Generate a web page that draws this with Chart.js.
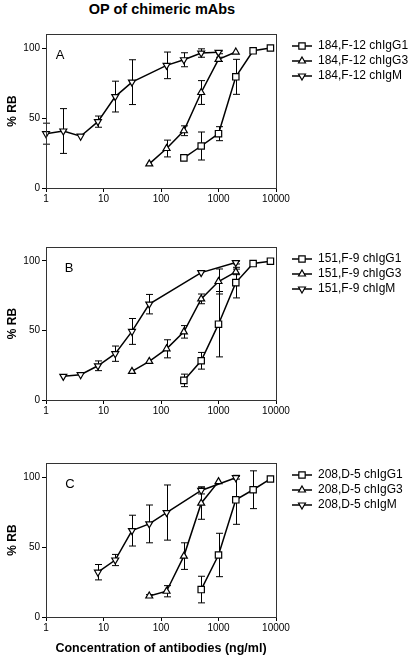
<!DOCTYPE html>
<html>
<head>
<meta charset="utf-8">
<script src="https://cdn.jsdelivr.net/npm/chart.js@4/dist/chart.umd.min.js"></script>
<style>
  body { margin: 0; background: #fff; }
  #wrap { position: relative; width: 417px; height: 656px; overflow: hidden; }
  #title { position: absolute; left: 0; top: 1px; width: 324px; text-align: center;
           font: bold 14.5px "Liberation Sans", Arial, sans-serif; color: #000; }
  canvas { position: absolute; left: 0; }
</style>
</head>
<body>
<div id="wrap">
  <div id="title">OP of chimeric mAbs</div>
  <canvas id="chartA" style="top:0px"></canvas>
  <canvas id="chartB" style="top:214px"></canvas>
  <canvas id="chartC" style="top:430px"></canvas>
</div>
<script>
// axis ticks
const xTicks = [1, 10, 100, 1000, 10000];
const yTicks = [0, 50, 100];

// Panel A: 184,F-12
const aNames = ['184,F-12 chIgG1', '184,F-12 chIgG3', '184,F-12 chIgM'];
const aIgG1X = [250, 500, 1000, 2000, 4000, 8000];
const aIgG1Y = [21.5, 30, 38.8, 79.4, 98, 100];
const aIgG1Err = [0, 10, 5, 12.5, 0, 0];
const aIgG3X = [62.5, 125, 250, 500, 1000, 2000];
const aIgG3Y = [17.2, 28.2, 40.9, 68.2, 91.9, 97.1];
const aIgG3Err = [0, 6, 3.5, 8.5, 1.5, 0];
const aIgMX = [1, 2, 4, 8, 16, 31.25, 125, 250, 500, 1000];
const aIgMY = [38.8, 40.7, 37, 47.4, 65.3, 75.6, 87.6, 91.6, 96.4, 96.9];
const aIgMErr = [7.5, 16, 0, 4, 11, 16, 9.5, 5, 3, 1];

// Panel B: 151,F-9
const bNames = ['151,F-9 chIgG1', '151,F-9 chIgG3', '151,F-9 chIgM'];
const bIgG1X = [250, 500, 1000, 2000, 4000, 8000];
const bIgG1Y = [14.1, 28.2, 54.5, 84.4, 98.1, 99.8];
const bIgG1Err = [4.5, 6, 23.5, 11, 0, 0];
const bIgG3X = [31.25, 62.5, 125, 250, 500, 1000, 2000];
const bIgG3Y = [20.6, 27.8, 36.8, 49, 72.7, 85.2, 92.1];
const bIgG3Err = [0, 0, 6.5, 4.5, 3.5, 9, 2];
const bIgMX = [2, 4, 8, 16, 31.25, 62.5, 500, 2000];
const bIgMY = [17, 18.2, 24.6, 33.3, 49.3, 68.9, 91.6, 98.8];
const bIgMErr = [0, 0, 3.5, 5.5, 9.3, 7, 0, 1];

// Panel C: 208,D-5
const cNames = ['208,D-5 chIgG1', '208,D-5 chIgG3', '208,D-5 chIgM'];
const cIgG1X = [500, 1000, 2000, 4000, 8000];
const cIgG1Y = [19.6, 44.3, 83.7, 90.9, 98.6];
const cIgG1Err = [9.5, 15.5, 17.5, 13.5, 0];
const cIgG3X = [62.5, 125, 250, 500, 1000];
const cIgG3Y = [15, 18.4, 43.5, 81.3, 96.7];
const cIgG3Err = [1, 4, 9.5, 11.5, 0];
const cIgMX = [8, 16, 31.25, 62.5, 125, 500, 2000];
const cIgMY = [32, 40.7, 61.7, 66.5, 74.6, 90.4, 99.5];
const cIgMErr = [5.5, 4, 11, 13.5, 19.7, 2.5, 1];

Chart.defaults.font.family = '"Liberation Sans", Arial, sans-serif';
Chart.defaults.color = '#000';

// marker styles: square, triangle, inverted triangle
const markers = [
    { pointStyle: 'rect', rotation: 0, radius: 4.5 },
    { pointStyle: 'triangle', rotation: 0, radius: 4 },
    { pointStyle: 'triangle', rotation: 180, radius: 4 }
];

function toPoints(xs, ys) {
    return xs.map((x, i) => ({ x: x, y: ys[i] }));
}

function drawMarker(ctx, style, x, y) {
    const r = style.radius;
    ctx.beginPath();
    if (style.pointStyle === 'rect') {
        const s = r * Math.SQRT1_2;
        ctx.rect(x - s, y - s, 2 * s, 2 * s);
    } else {
        const dir = style.rotation ? -1 : 1;
        ctx.moveTo(x, y - dir * r);
        ctx.lineTo(x + r * 0.866, y + dir * r * 0.5);
        ctx.lineTo(x - r * 0.866, y + dir * r * 0.5);
        ctx.closePath();
    }
    ctx.fillStyle = '#fff';
    ctx.fill();
    ctx.strokeStyle = '#000';
    ctx.lineWidth = 1.2;
    ctx.stroke();
}

// error bars, frame, panel letter and legend
const panelDecor = {
    id: 'panelDecor',
    beforeDatasetsDraw(chart) {
        const ctx = chart.ctx;
        const xs = chart.scales.x, ys = chart.scales.y;
        ctx.save();
        ctx.strokeStyle = '#000';
        ctx.lineWidth = 1;
        chart.data.datasets.forEach(ds => {
            ds.data.forEach((p, i) => {
                const e = ds.errors[i];
                if (!e) return;
                const px = Math.round(xs.getPixelForValue(p.x)) + 0.5;
                const top = ys.getPixelForValue(p.y + e);
                const bot = ys.getPixelForValue(p.y - e);
                ctx.beginPath();
                ctx.moveTo(px, top); ctx.lineTo(px, bot);
                ctx.moveTo(px - 3.5, top); ctx.lineTo(px + 3.5, top);
                ctx.moveTo(px - 3.5, bot); ctx.lineTo(px + 3.5, bot);
                ctx.stroke();
            });
        });
        ctx.restore();
    },
    afterDraw(chart, args, opts) {
        const ctx = chart.ctx;
        const a = chart.chartArea;
        ctx.save();
        ctx.strokeStyle = '#333';
        ctx.lineWidth = 1;
        ctx.strokeRect(Math.round(a.left) + 0.5, Math.round(a.top) + 0.5,
                       Math.round(a.right - a.left), Math.round(a.bottom - a.top));

        ctx.fillStyle = '#000';
        ctx.font = '13px "Liberation Sans", Arial, sans-serif';
        ctx.textAlign = 'center';
        ctx.textBaseline = 'middle';
        ctx.fillText(opts.letter, opts.letterX, a.top + opts.letterDy);

        ctx.font = '12px "Liberation Sans", Arial, sans-serif';
        ctx.textAlign = 'left';
        chart.data.datasets.forEach((ds, i) => {
            const y = a.top + opts.legendDy + i * 15;
            ctx.beginPath();
            ctx.strokeStyle = '#000';
            ctx.lineWidth = 1.5;
            ctx.moveTo(292, y); ctx.lineTo(312, y);
            ctx.stroke();
            drawMarker(ctx, markers[i], 302, y);
            ctx.fillStyle = '#000';
            ctx.fillText(ds.label, 318, y);
        });
        ctx.restore();
    }
};

function makePanel(id, height, padTop, xAxisH, letter, letterX, names, xsArr, ysArr, errArr, xTitle) {
    const canvas = document.getElementById(id);
    canvas.width = 417;
    canvas.height = height;
    canvas.style.width = '417px';
    canvas.style.height = height + 'px';

    const datasets = names.map((name, i) => ({
        label: name,
        data: toPoints(xsArr[i], ysArr[i]),
        errors: errArr[i],
        borderColor: '#000',
        borderWidth: 1.5,
        pointStyle: markers[i].pointStyle,
        pointRotation: markers[i].rotation,
        pointRadius: markers[i].radius,
        pointBackgroundColor: '#fff',
        pointBorderColor: '#000',
        pointBorderWidth: 1.2,
        clip: false,
        tension: 0
    }));

    new Chart(canvas, {
        type: 'line',
        data: { datasets: datasets },
        options: {
            responsive: false,
            animation: false,
            layout: { padding: { top: padTop, right: 141, left: 0, bottom: 0 } },
            plugins: {
                legend: { display: false },
                tooltip: { enabled: false },
                panelDecor: { letter: letter, letterX: letterX, letterDy: 21, legendDy: 12 }
            },
            scales: {
                x: {
                    type: 'logarithmic',
                    min: 1, max: 10000,
                    afterBuildTicks: axis => { axis.ticks = xTicks.map(v => ({ value: v })); },
                    afterFit: axis => { axis.height = xAxisH; },
                    ticks: { font: { size: 10 }, maxRotation: 0, padding: 1, callback: v => String(v) },
                    grid: { drawOnChartArea: false, drawTicks: true, tickLength: 4, color: '#000' },
                    border: { display: true, color: '#000' },
                    title: {
                        display: !!xTitle,
                        text: xTitle || '',
                        font: { size: 12.5, weight: 'bold' },
                        padding: { top: 3, bottom: 0 }
                    }
                },
                y: {
                    min: 0, max: 110,
                    afterBuildTicks: axis => { axis.ticks = yTicks.map(v => ({ value: v })); },
                    afterFit: axis => { axis.width = 46; },
                    ticks: { font: { size: 10 }, padding: 2 },
                    grid: { drawOnChartArea: false, drawTicks: true, tickLength: 4, color: '#000' },
                    border: { display: true, color: '#000' },
                    title: {
                        display: true,
                        text: '% RB',
                        font: { size: 12, weight: 'bold' },
                        padding: { top: 5, bottom: 0 }
                    }
                }
            }
        },
        plugins: [panelDecor]
    });
}

makePanel('chartA', 212, 34, 24, 'A', 60, aNames,
    [aIgG1X, aIgG3X, aIgMX], [aIgG1Y, aIgG3Y, aIgMY], [aIgG1Err, aIgG3Err, aIgMErr], null);
makePanel('chartB', 210, 33, 24, 'B', 69, bNames,
    [bIgG1X, bIgG3X, bIgMX], [bIgG1Y, bIgG3Y, bIgMY], [bIgG1Err, bIgG3Err, bIgMErr], null);
makePanel('chartC', 226, 33, 39, 'C', 70, cNames,
    [cIgG1X, cIgG3X, cIgMX], [cIgG1Y, cIgG3Y, cIgMY], [cIgG1Err, cIgG3Err, cIgMErr],
    'Concentration of antibodies (ng/ml)');
</script>
</body>
</html>
